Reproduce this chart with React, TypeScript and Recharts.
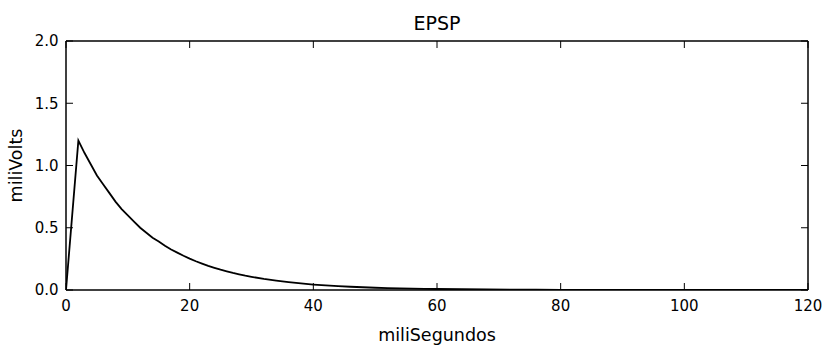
import React from 'react';
import { LineChart, Line, XAxis, YAxis } from 'recharts';

const timesMs = [0, 2, 3, 4, 5, 6, 7, 8, 9, 10, 11, 12, 13, 14, 15, 16, 17, 18, 19, 20, 21, 22, 23, 24, 25, 26, 27, 28, 29, 30, 32, 34, 36, 38, 40, 42, 44, 46, 48, 50, 52, 54, 56, 58, 60, 64, 68, 72, 76, 80, 90, 100, 110, 120];
const epspMv = [0, 1.2, 1.1, 1.01, 0.92, 0.85, 0.78, 0.71, 0.65, 0.6, 0.55, 0.5, 0.46, 0.42, 0.39, 0.355, 0.325, 0.3, 0.275, 0.252, 0.231, 0.212, 0.194, 0.178, 0.163, 0.15, 0.137, 0.126, 0.115, 0.106, 0.089, 0.075, 0.063, 0.053, 0.044, 0.037, 0.031, 0.026, 0.022, 0.018, 0.015, 0.013, 0.011, 0.009, 0.008, 0.006, 0.004, 0.003, 0.002, 0.0015, 0.0006, 0.0002, 0.0001, 0];
const xTicks = [0, 20, 40, 60, 80, 100, 120];
const yTicks = [0, 0.5, 1, 1.5, 2];
const titleText = 'EPSP';
const xLabelText = 'miliSegundos';
const yLabelText = 'miliVolts';

const data = timesMs.map((t, i) => ({ t, v: epspMv[i] }));

const FONT = 'DejaVu Sans, sans-serif';
const TICK_LEN = 7;

const BottomTick = (props: any) => {
  const { x, y, payload } = props;
  return (
    <g>
      <line x1={x} x2={x} y1={y} y2={y - TICK_LEN} stroke="#000" strokeWidth={1} />
      <text x={x} y={y + 10} dy="0.71em" textAnchor="middle" fontSize={15} fontFamily={FONT} fill="#000">
        {payload.value}
      </text>
    </g>
  );
};

const TopTick = (props: any) => {
  const { x, y } = props;
  return <line x1={x} x2={x} y1={y} y2={y + TICK_LEN} stroke="#000" strokeWidth={1} />;
};

const LeftTick = (props: any) => {
  const { x, y, payload } = props;
  return (
    <g>
      <line x1={x} x2={x + TICK_LEN} y1={y} y2={y} stroke="#000" strokeWidth={1} />
      <text x={x - 7.5} y={y} dy="0.355em" textAnchor="end" fontSize={15} fontFamily={FONT} fill="#000">
        {Number(payload.value).toFixed(1)}
      </text>
    </g>
  );
};

const RightTick = (props: any) => {
  const { x, y } = props;
  return <line x1={x} x2={x - TICK_LEN} y1={y} y2={y} stroke="#000" strokeWidth={1} />;
};

export default function App() {
  return (
    <div style={{ width: 823, height: 345 }}>
      <style>{`body{margin:0;}`}</style>
      <LineChart width={823} height={345} data={data} margin={{ top: 40, right: 14, bottom: 0, left: 0 }}>
        <XAxis
          xAxisId="b"
          type="number"
          dataKey="t"
          domain={[0, 120]}
          ticks={xTicks}
          allowDataOverflow
          height={55}
          orientation="bottom"
          tickSize={0}
          tickMargin={0}
          tickLine={false}
          axisLine={{ stroke: '#000', strokeWidth: 1.5 }}
          tick={<BottomTick />}
          interval={0}
          label={{
            content: (props: any) => {
              const vb = props.viewBox;
              return (
                <text x={vb.x + vb.width / 2} y={341} textAnchor="middle" fontSize={17.5} fontFamily={FONT} fill="#000">
                  {xLabelText}
                </text>
              );
            },
          }}
        />
        <XAxis
          xAxisId="t"
          type="number"
          dataKey="t"
          domain={[0, 120]}
          ticks={xTicks}
          allowDataOverflow
          height={1}
          orientation="top"
          tickSize={0}
          tickMargin={0}
          tickLine={false}
          tick={<TopTick />}
          interval={0}
          axisLine={{ stroke: '#000', strokeWidth: 1.5 }}
          label={{
            content: (props: any) => {
              const vb = props.viewBox;
              return (
                <text x={vb.x + vb.width / 2} y={30} textAnchor="middle" fontSize={19} fontFamily={FONT} fill="#000">
                  {titleText}
                </text>
              );
            },
          }}
        />
        <YAxis
          yAxisId="l"
          type="number"
          domain={[0, 2]}
          ticks={yTicks}
          allowDataOverflow
          width={66}
          orientation="left"
          tickSize={0}
          tickMargin={0}
          tickLine={false}
          interval={0}
          axisLine={{ stroke: '#000', strokeWidth: 1.5 }}
          tick={<LeftTick />}
          label={{
            content: (props: any) => {
              const vb = props.viewBox;
              const cy = vb.y + vb.height / 2;
              return (
                <text transform={`translate(22, ${cy}) rotate(-90)`} x={0} y={0} textAnchor="middle" fontSize={17.5} fontFamily={FONT} fill="#000">
                  {yLabelText}
                </text>
              );
            },
          }}
        />
        <YAxis
          yAxisId="r"
          type="number"
          domain={[0, 2]}
          ticks={yTicks}
          allowDataOverflow
          width={1}
          orientation="right"
          tickSize={0}
          tickMargin={0}
          tickLine={false}
          interval={0}
          tick={<RightTick />}
          axisLine={{ stroke: '#000', strokeWidth: 1.5 }}
        />
        <Line
          xAxisId="b"
          yAxisId="l"
          type="linear"
          dataKey="v"
          stroke="#000"
          strokeWidth={1.8}
          dot={false}
          isAnimationActive={false}
        />
      </LineChart>
    </div>
  );
}
